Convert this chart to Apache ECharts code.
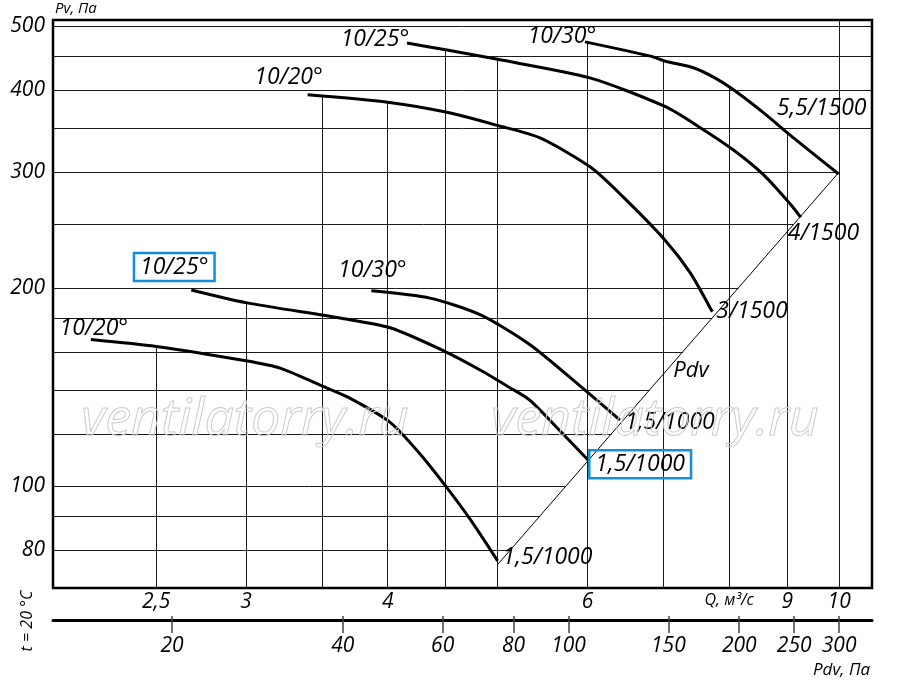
<!DOCTYPE html>
<html>
<head>
<meta charset="utf-8">
<title>Pv - Q</title>
<script src="https://cdn.jsdelivr.net/npm/echarts@6/dist/echarts.min.js"></script>
<style>
    html, body { margin: 0; padding: 0; background: #fff; }
    #chart { width: 900px; height: 683px; }
</style>
</head>
<body>
<div id="chart"></div>
<script>
// кривые: Q, м3/с  и  Pv, Па
var lo20Q = [2.19, 2.5, 3.0, 3.22, 3.5, 3.69, 4.02, 4.27, 4.5, 4.73, 5.0];
var lo20P = [167, 163, 155, 151, 142, 136.5, 125, 112, 100, 89, 77];
var lo25Q = [2.685, 3.0, 3.63, 4.02, 4.5, 4.83, 5.13, 5.34, 5.71, 6.01];
var lo25P = [198.6, 190, 180, 174, 160, 150, 141, 135, 120, 109.5];
var lo30Q = [3.87, 4.36, 4.83, 5.34, 5.91, 6.41];
var lo30P = [198, 193, 182, 164, 142, 126];
var up20Q = [3.40, 4.0, 4.5, 5.0, 5.45, 6.04, 6.45, 7.03, 7.39, 7.73];
var up20P = [393, 383, 370, 353, 338, 305, 275, 236, 211, 184];
var up25Q = [4.16, 4.5, 5.0, 6.03, 7.03, 7.55, 8.07, 8.58, 9.06, 9.25];
var up25P = [471, 460, 445, 417, 377, 350, 324, 297, 268, 256];
var up30Q = [5.97, 6.82, 7.03, 7.44, 7.77, 8.07, 8.58, 9.06, 9.57, 9.99];
var up30P = [473, 450, 442, 432, 417, 400, 369, 341, 316, 298];

// линия Pdv
var pdvQ = [5.0, 10.0];
var pdvP = [76, 300];

// сетка и подписи осей
var qGrid = [2.5, 3, 3.5, 4, 4.5, 5, 6, 7, 8, 9, 10];
var pGrid = [80, 90, 100, 120, 140, 160, 180, 200, 250, 300, 350, 400, 450, 500];
var qLabels = [2.5, 3, 4, 6, 8, 9, 10];   // на 8 стоит "Q, м3/с"
var pLabels = [80, 100, 200, 300, 400, 500];
var pdvLabels = [20, 40, 60, 80, 100, 150, 200, 250, 300];

var qRange = [2.028, 10.69];
var pRange = [70.03, 510.6];
var pdvPerQ2 = 3;   // Pdv = 3 * Q^2

var FONT = '"Open Sans", sans-serif';
var BLUE = '#138fd8';

var lg = Math.log10;

function toXY(qs, ps) {
    return qs.map(function(q, i) { return [lg(q), lg(ps[i])]; });
}

// lg P on a curve at q (log-log interpolation), null when outside
function curveAt(qs, ps, q) {
    if (q < qs[0] || q > qs[qs.length - 1]) return null;
    for (var i = 1; i < qs.length; i++) {
        if (q <= qs[i]) {
            var t = (lg(q) - lg(qs[i - 1])) / (lg(qs[i]) - lg(qs[i - 1]));
            return lg(ps[i - 1]) + t * (lg(ps[i]) - lg(ps[i - 1]));
        }
    }
    return null;
}

var curves = [[lo20Q, lo20P], [lo25Q, lo25P], [lo30Q, lo30P],
              [up20Q, up20P], [up25Q, up25P], [up30Q, up30P]];

function envelope(q) {
    var top = null;
    curves.forEach(function(c) {
        var v = curveAt(c[0], c[1], q);
        if (v !== null && (top === null || v > top)) top = v;
    });
    return top === null ? lg(pRange[1]) : top;
}

function pdvLineQ(p) {
    var t = (lg(p) - lg(pdvP[0])) / (lg(pdvP[1]) - lg(pdvP[0]));
    return lg(pdvQ[0]) + t * (lg(pdvQ[1]) - lg(pdvQ[0]));
}

var gridLines = [];
pGrid.forEach(function(p) {
    var xEnd = p <= pdvP[1] ? pdvLineQ(p) : lg(qRange[1]);
    gridLines.push([{coord: [lg(qRange[0]), lg(p)]}, {coord: [xEnd, lg(p)]}]);
});
qGrid.forEach(function(q) {
    gridLines.push([{coord: [lg(q), envelope(q)]}, {coord: [lg(q), lg(pRange[0])]}]);
});

function numLabel(val) {
    var v = Math.round(Math.pow(10, val) * 100) / 100;
    return String(v).replace('.', ',');
}

function lbl(text, position, offset, boxed, distance) {
    var o = {
        show: true, formatter: text, position: position, distance: distance || 0,
        offset: offset, color: '#000', fontSize: 23, fontStyle: 'italic', fontFamily: FONT
    };
    if (boxed) {
        o.borderColor = BLUE;
        o.borderWidth = 2.5;
        o.padding = [3, 6, 2, 6];
    }
    return o;
}

function curve(qs, ps, startLabel, endLabel) {
    var data = toXY(qs, ps).map(function(v) { return {value: v}; });
    data[0].label = startLabel;
    data[data.length - 1].label = endLabel;
    return {
        type: 'line',
        data: data,
        smooth: 0.25,
        symbol: 'circle',
        symbolSize: 0,
        showSymbol: true,
        lineStyle: {color: '#000', width: 3},
        itemStyle: {color: '#000'},
        label: {show: false},
        silent: true,
        z: 4
    };
}

var chart = echarts.init(document.getElementById('chart'));

var labelStyle = {color: '#000', fontSize: 21, fontStyle: 'italic', fontFamily: FONT};

var option = {
    animation: false,
    grid: {
        left: 53, right: 28, top: 20, bottom: 95,
        show: true, borderColor: '#000', borderWidth: 2.5, backgroundColor: '#fff'
    },
    xAxis: [
        {
            type: 'value',
            min: lg(qRange[0]), max: lg(qRange[1]),
            splitLine: {show: false},
            axisLine: {show: false},
            axisTick: {show: false},
            axisLabel: Object.assign({
                customValues: qLabels.map(lg),
                margin: 4,
                formatter: function(val) {
                    if (Math.abs(val - lg(8)) < 1e-6) return '{u|Q, м³/с}';
                    return numLabel(val);
                },
                rich: {u: {fontSize: 16, fontStyle: 'italic', fontFamily: FONT, color: '#000'}}
            }, labelStyle)
        },
        {
            type: 'value',
            position: 'bottom',
            offset: 32,
            min: lg(pdvPerQ2 * qRange[0] * qRange[0]),
            max: lg(pdvPerQ2 * qRange[1] * qRange[1]),
            splitLine: {show: false},
            axisLine: {show: true, lineStyle: {color: '#000', width: 3}},
            axisTick: {show: true, customValues: pdvLabels.map(lg), length: 13,
                       lineStyle: {color: '#444', width: 1.5}},
            axisLabel: Object.assign({
                customValues: pdvLabels.map(lg),
                margin: 16,
                formatter: numLabel
            }, labelStyle)
        },
        {
            type: 'value',
            position: 'bottom',
            offset: 32,
            min: lg(pdvPerQ2 * qRange[0] * qRange[0]),
            max: lg(pdvPerQ2 * qRange[1] * qRange[1]),
            splitLine: {show: false},
            axisLine: {show: false},
            axisTick: {show: true, inside: true, customValues: pdvLabels.map(lg), length: 4,
                       lineStyle: {color: '#444', width: 1.5}},
            axisLabel: {show: false}
        }
    ],
    yAxis: {
        type: 'value',
        min: lg(pRange[0]), max: lg(pRange[1]),
        splitLine: {show: false},
        axisLine: {show: false},
        axisTick: {show: false},
        axisLabel: Object.assign({
            customValues: pLabels.map(lg),
            margin: 8,
            formatter: numLabel
        }, labelStyle)
    },
    series: [
        {
            type: 'line',
            data: toXY(pdvQ, pdvP),
            symbol: 'none',
            lineStyle: {color: '#000', width: 1},
            silent: true,
            z: 3,
            markLine: {
                silent: true,
                symbol: 'none',
                label: {show: false},
                lineStyle: {color: '#1a1a1a', width: 1, type: 'solid'},
                emphasis: {disabled: true},
                data: gridLines,
                z: 2
            }
        },
        curve(lo20Q, lo20P, lbl('10/20°', 'top', [3, 0]), lbl('1,5/1000', 'right', [0, -3], false, 5)),
        curve(lo25Q, lo25P, lbl('10/25°', 'top', [-17, -9], true), lbl('1,5/1000', 'right', [0, 4], true, 1)),
        curve(lo30Q, lo30P, lbl('10/30°', 'top', [1, -9]), lbl('1,5/1000', 'right', [0, 2], false, 5)),
        curve(up20Q, up20P, lbl('10/20°', 'top', [-19, -6]), lbl('3/1500', 'right', [0, 0], false, 4)),
        curve(up25Q, up25P, lbl('10/25°', 'top', [-32, 8]), lbl('4/1500', 'right', [-13, 16])),
        curve(up30Q, up30P, lbl('10/30°', 'top', [-23, 6]), lbl('5,5/1500', 'top', [-17, -54]))
    ],
    graphic: [
        {type: 'text', left: 55, top: 1, z: 10,
         style: {text: 'Pv, Па', font: 'italic 15px ' + FONT, fill: '#000'}},
        {type: 'text', left: 813, top: 662, z: 10,
         style: {text: 'Pdv, Па', font: 'italic 17px ' + FONT, fill: '#000'}},
        {type: 'text', x: 27, y: 621, rotation: Math.PI / 2, z: 10,
         style: {text: 't = 20 °C', font: 'italic 16px ' + FONT, fill: '#000',
                 align: 'center', verticalAlign: 'middle'}},
        {type: 'text', x: 691, y: 371, z: 10,
         style: {text: 'Pdv', font: 'italic 22px ' + FONT, fill: '#000',
                 align: 'center', verticalAlign: 'middle'}},
        {type: 'text', x: 245, y: 420, z: 10, silent: true,
         style: {text: 'ventilatorry.ru', font: 'italic 52px ' + FONT, fill: 'rgba(255,255,255,0)',
                 stroke: '#cccccc', lineWidth: 1, align: 'center', verticalAlign: 'middle'}},
        {type: 'text', x: 655, y: 420, z: 10, silent: true,
         style: {text: 'ventilatorry.ru', font: 'italic 52px ' + FONT, fill: 'rgba(255,255,255,0)',
                 stroke: '#cccccc', lineWidth: 1, align: 'center', verticalAlign: 'middle'}}
    ]
};

chart.setOption(option);
</script>
</body>
</html>
